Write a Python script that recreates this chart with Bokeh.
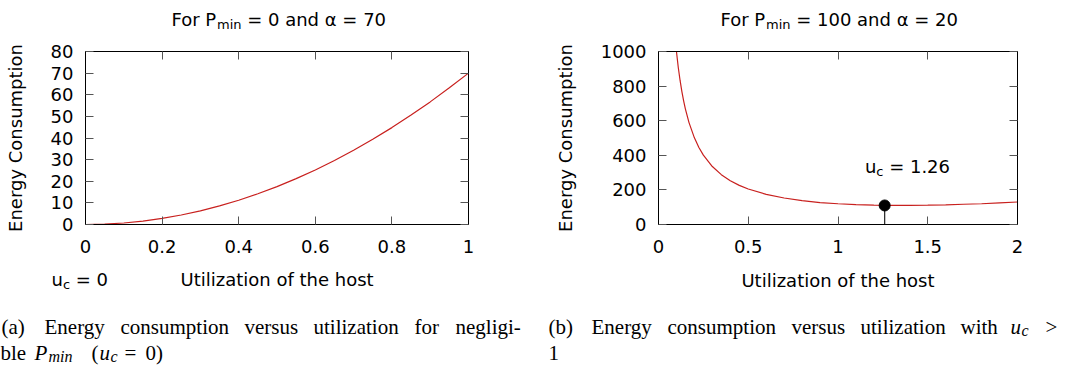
from bokeh.plotting import figure
from bokeh.layouts import column, row
from bokeh.models import Range1d, FixedTicker, LinearAxis, Label
from bokeh.embed import file_html
from bokeh.resources import INLINE
from bokeh.core.properties import value

# ---- data -------------------------------------------------------------
# (a) P_min = 0, alpha = 70
util_a = [0.0, 0.05, 0.1, 0.15, 0.2, 0.25, 0.3, 0.35, 0.4, 0.45, 0.5,
          0.55, 0.6, 0.65, 0.7, 0.75, 0.8, 0.85, 0.9, 0.95, 1.0]
energy_a = [0.0, 0.2, 0.7, 1.6, 2.8, 4.4, 6.3, 8.6, 11.2, 14.2, 17.5,
            21.2, 25.2, 29.6, 34.3, 39.4, 44.8, 50.6, 56.7, 63.2, 70.0]

# (b) P_min = 100, alpha = 20
util_b = [0.1, 0.11, 0.12, 0.13, 0.14, 0.15, 0.17, 0.2, 0.225, 0.25, 0.3,
          0.35, 0.4, 0.45, 0.5, 0.6, 0.7, 0.8, 0.9, 1.0, 1.1, 1.2, 1.3,
          1.4, 1.5, 1.6, 1.7, 1.8, 1.9, 2.0]
energy_b = [1000, 909, 834, 770, 715, 667, 589, 501, 445, 401, 335,
            288, 253, 226, 205, 174, 153, 138, 127, 120, 115, 112, 111,
            111, 112, 114, 117, 120, 125, 130]
uc_b = [1.26]
ec_b = [110]

xticks_a = [0, 0.2, 0.4, 0.6, 0.8, 1]
xlabels_a = ["0", "0.2", "0.4", "0.6", "0.8", "1"]
yticks_a = [0, 10, 20, 30, 40, 50, 60, 70, 80]
xticks_b = [0, 0.5, 1, 1.5, 2]
xlabels_b = ["0", "0.5", "1", "1.5", "2"]
yticks_b = [0, 200, 400, 600, 800, 1000]

# ---- styling ----------------------------------------------------------
SANS = "DejaVu Sans"
SERIF = "Liberation Serif"
FS = "18px"
SUB = "13px"
CURVE = "#c8201e"
TICK = "#555555"
W = 540
TITLE_H = 40          # strip holding each panel heading
FRAME_TOP = 11        # space between heading strip and plot frame
FRAME_H = 173


def strip(height, pieces, font=SANS):
    # a blank canvas whose data units are pixels (x right, y down)
    s = figure(width=W, height=height, x_range=Range1d(0, W),
               y_range=Range1d(height, 0), x_axis_type=None, y_axis_type=None,
               output_backend="svg", toolbar_location=None, min_border=0,
               outline_line_color=None, frame_align=False)
    s.grid.visible = False
    for txt, x, y, style, size in pieces:
        s.text(x=[x], y=[y], text=[txt], text_font=value(font),
               text_font_size=size, text_font_style=style, text_color="black",
               text_baseline="alphabetic", text_align="left")
    return s


def panel(xr, yr, xticks, xlabels, yticks, left, right, bottom, xtitle):
    p = figure(width=W, height=FRAME_TOP + FRAME_H + bottom,
               x_range=Range1d(*xr), y_range=Range1d(*yr),
               output_backend="svg", toolbar_location=None,
               min_border_left=left, min_border_right=right,
               min_border_top=FRAME_TOP, min_border_bottom=bottom,
               frame_align=False)
    p.xgrid.visible = False
    p.ygrid.visible = False
    p.outline_line_color = "black"
    p.outline_line_width = 1
    p.add_layout(LinearAxis(), "above")
    p.add_layout(LinearAxis(), "right")
    for ax in p.axis:
        ax.minor_tick_line_color = None
        ax.major_tick_in = 8
        ax.major_tick_out = 0
        ax.major_tick_line_color = TICK
        ax.axis_line_color = "black"
        ax.major_label_text_font = SANS
        ax.major_label_text_font_size = FS
        ax.major_label_text_color = "black"
        ax.major_label_standoff = 12
        ax.axis_label_text_font = SANS
        ax.axis_label_text_font_size = FS
        ax.axis_label_text_font_style = "normal"
        ax.axis_label_text_color = "black"
        ax.axis_label_standoff = 14
    for ax in p.xaxis:
        ax.ticker = FixedTicker(ticks=xticks)
        ax.major_label_overrides = {float(t): s for t, s in zip(xticks, xlabels)}
        ax.major_label_standoff = 15
    for ax in p.yaxis:
        ax.ticker = FixedTicker(ticks=yticks)
    # mirrored tick marks on the top and right edges, without numbers
    for ax in (p.above[0], p.right[0]):
        ax.major_label_text_color = None
        ax.major_label_text_font_size = "1px"
        ax.major_label_standoff = 0
    if xtitle:
        p.below[0].axis_label = xtitle
    p.left[0].axis_label = "Energy Consumption"
    p.left[0].axis_label_standoff = 22
    return p


# ---- panel (a) --------------------------------------------------------
title_a = strip(TITLE_H, [
    ("For P", 171, 18.5, "normal", FS),
    ("min", 216.5, 23.5, "normal", SUB),
    ("= 0 and \u03b1 = 70", 246.7, 18.5, "normal", FS),
])
pa = panel((0, 1), (0, 80), xticks_a, xlabels_a, yticks_a, 85, 72, 38, None)
pa.line(util_a, energy_a, line_color=CURVE, line_width=1.2)
foot_a = strip(370 - 70 - TITLE_H - FRAME_TOP - FRAME_H - 38, [
    ("u", 51, 16.5, "normal", FS),
    ("c", 62.4, 21.5, "normal", SUB),
    ("= 0", 75.2, 16.5, "normal", FS),
    ("Utilization of the host", 180, 16.5, "normal", FS),
])

# ---- panel (b) --------------------------------------------------------
title_b = strip(TITLE_H, [
    ("For P", 180, 18.5, "normal", FS),
    ("min", 225.5, 23.5, "normal", SUB),
    ("= 100 and \u03b1 = 20", 255.7, 18.5, "normal", FS),
])
pb = panel((0, 2), (0, 1000), xticks_b, xlabels_b, yticks_b, 118, 63, 76,
           "Utilization of the host")
pb.line(util_b, energy_b, line_color=CURVE, line_width=1.2)
pb.segment(x0=uc_b, y0=[0], x1=uc_b, y1=ec_b, line_color="#222222", line_width=1.2)
pb.scatter(uc_b, ec_b, size=11, fill_color="black", line_color="black")
for txt, dx, dy, size in [("u", 0, 0, FS), ("c", 11.4, -5, SUB), ("= 1.26", 24.2, 0, FS)]:
    pb.add_layout(Label(x=1.15, y=333, x_offset=dx, y_offset=dy, text=txt,
                        text_font=SANS, text_font_size=size, text_color="black",
                        text_baseline="alphabetic", text_align="left"))

# ---- captions (justified lines, one word per piece) -------------------
CS, CSUB = "21px", "16px"
L1, L2 = 26, 52
cap_a = strip(70, [
    ("(a)", 1, L1, "normal", CS), ("Energy", 44, L1, "normal", CS),
    ("consumption", 120, L1, "normal", CS), ("versus", 244, L1, "normal", CS),
    ("utilization", 313, L1, "normal", CS), ("for", 414, L1, "normal", CS),
    ("negligi-", 455, L1, "normal", CS),
    ("ble", 0, L2, "normal", CS), ("P", 34, L2, "italic", CS),
    ("min", 48, L2 + 4, "italic", CSUB), ("(", 91, L2, "normal", CS),
    ("u", 99, L2, "italic", CS), ("c", 110, L2 + 4, "italic", CSUB),
    ("=", 124, L2, "normal", CS), ("0)", 145, L2, "normal", CS),
], font=SERIF)
cap_b = strip(70, [
    ("(b)", 8, L1, "normal", CS), ("Energy", 51, L1, "normal", CS),
    ("consumption", 127, L1, "normal", CS), ("versus", 251, L1, "normal", CS),
    ("utilization", 320, L1, "normal", CS), ("with", 420, L1, "normal", CS),
    ("u", 470, L1, "italic", CS), ("c", 481, L1 + 4, "italic", CSUB),
    (">", 505, L1, "normal", CS),
    ("1", 8, L2, "normal", CS),
], font=SERIF)

layout = column(
    row(column(title_a, pa, foot_a), column(title_b, pb)),
    row(cap_a, cap_b),
)
open("out.html", "w").write(file_html(layout, INLINE))
